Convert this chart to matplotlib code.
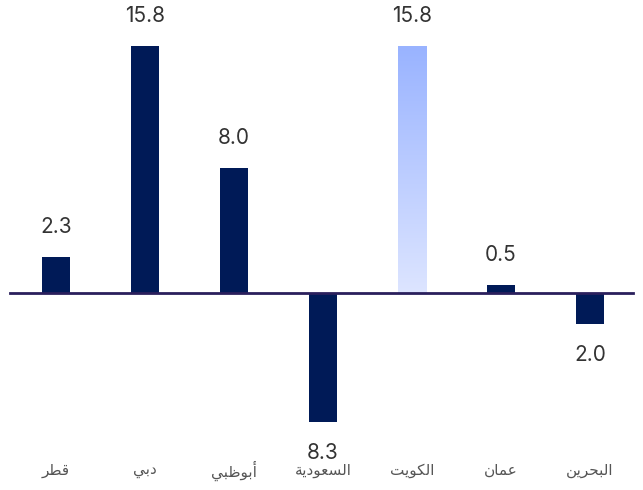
import numpy as np
import matplotlib
matplotlib.use("Agg")
import matplotlib.pyplot as plt
from matplotlib.colors import LinearSegmentedColormap
import matplotlib.transforms as mtransforms

regions = ["قطر", "دبي", "أبوظبي", "السعودية", "الكويت", "عمان", "البحرين"]
values = [2.3, 15.8, 8.0, -8.3, 15.8, 0.5, -2.0]
highlight = "الكويت"

# minimal arabic shaping (matplotlib has no bidi / joining)
forms = {
    "ا": ("\uFE8D", "\uFE8E", None, None),
    "أ": ("\uFE83", "\uFE84", None, None),
    "ب": ("\uFE8F", "\uFE90", "\uFE91", "\uFE92"),
    "ة": ("\uFE93", "\uFE94", None, None),
    "ت": ("\uFE95", "\uFE96", "\uFE97", "\uFE98"),
    "ح": ("\uFEA1", "\uFEA2", "\uFEA3", "\uFEA4"),
    "د": ("\uFEA9", "\uFEAA", None, None),
    "ر": ("\uFEAD", "\uFEAE", None, None),
    "س": ("\uFEB1", "\uFEB2", "\uFEB3", "\uFEB4"),
    "ط": ("\uFEC1", "\uFEC2", "\uFEC3", "\uFEC4"),
    "ظ": ("\uFEC5", "\uFEC6", "\uFEC7", "\uFEC8"),
    "ع": ("\uFEC9", "\uFECA", "\uFECB", "\uFECC"),
    "ق": ("\uFED5", "\uFED6", "\uFED7", "\uFED8"),
    "ك": ("\uFED9", "\uFEDA", "\uFEDB", "\uFEDC"),
    "ل": ("\uFEDD", "\uFEDE", "\uFEDF", "\uFEE0"),
    "م": ("\uFEE1", "\uFEE2", "\uFEE3", "\uFEE4"),
    "ن": ("\uFEE5", "\uFEE6", "\uFEE7", "\uFEE8"),
    "و": ("\uFEED", "\uFEEE", None, None),
    "ي": ("\uFEF1", "\uFEF2", "\uFEF3", "\uFEF4"),
}


def shape(word):
    out = []
    n = len(word)
    for i, ch in enumerate(word):
        f = forms.get(ch)
        if f is None:
            out.append(ch)
            continue
        prev_joins = i > 0 and word[i - 1] in forms and forms[word[i - 1]][2] is not None
        next_joins = i < n - 1 and word[i + 1] in forms and f[2] is not None
        if prev_joins and next_joins:
            out.append(f[3])
        elif prev_joins:
            out.append(f[1])
        elif next_joins:
            out.append(f[2])
        else:
            out.append(f[0])
    return "".join(out[::-1])


plt.rcParams['font.family'] = ['DejaVu Sans']

fig = plt.figure(figsize=(6.43, 4.90), dpi=100)
ax = fig.add_axes([0, 0, 1, 1])

x = np.arange(len(regions))
w = 0.315
navy = "#001a57"
grad = LinearSegmentedColormap.from_list("g", ["#dde5ff", "#99b3ff"])

for i, (r, v) in enumerate(zip(regions, values)):
    if r == highlight:
        img = np.linspace(0, 1, 256).reshape(-1, 1)
        ax.imshow(img, cmap=grad, aspect="auto", origin="lower",
                  extent=(i - w / 2, i + w / 2, 0, v), zorder=2)
    else:
        ax.bar(i, v, width=w, color=navy, zorder=2)
    off = 22 if v >= 0 else -22
    ax.annotate("%.1f" % abs(v), (i, v), xytext=(0, off), textcoords="offset points",
                ha="center", va="center", fontsize=15, color="#333333",
                family=["Inter", "DejaVu Sans"])

trans = mtransforms.blended_transform_factory(ax.transData, ax.transAxes)
for i, r in enumerate(regions):
    ax.text(i, 0.04, shape(r), transform=trans, ha="center", va="center",
            fontsize=11, color="#555555")

ax.axhline(0, xmin=0.0156, xmax=0.984, color="#2a1f5c", lw=2, zorder=3)

ax.set_xlim(-0.629, 6.596)
ax.set_ylim(-12.63, 18.78)
ax.axis("off")

fig.savefig("out.png", dpi=100)
